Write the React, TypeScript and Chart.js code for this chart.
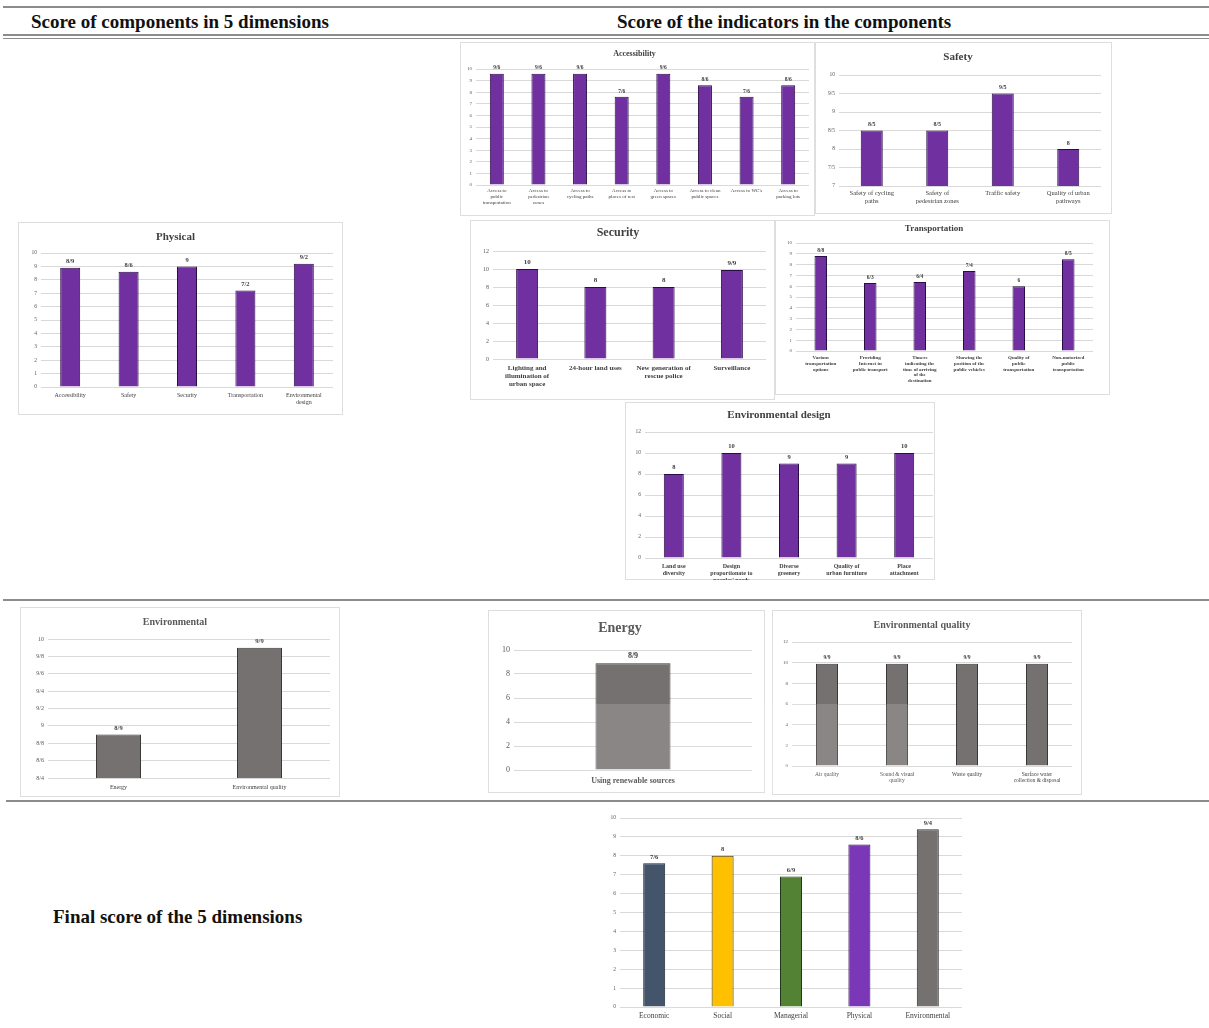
import React, { useEffect, useRef } from "react";
import { Chart, registerables } from "chart.js";
Chart.register(...registerables);

const FONT = "'Liberation Serif', 'Times New Roman', serif";
const PURPLE = "#7030A0";
const PURPLE_B = "#2a0d45";
const GRAY = "#767171";
const GRAY_B = "#3a3838";

// ---------- data ----------
const accessLabels = [["Access to", "public", "transportation"], ["Access to", "pedestrian", "zones"], ["Access to", "cycling paths"], ["Access to", "places of rest"], ["Access to", "green spaces"], ["Access to clean", "public spaces"], ["Access to WC's"], ["Access to", "parking lots"]];
const accessValues = [9.6, 9.6, 9.6, 7.6, 9.6, 8.6, 7.6, 8.6];

const safetyLabels = [["Safety of cycling", "paths"], ["Safety of", "pedestrian zones"], ["Traffic safety"], ["Quality of urban", "pathways"]];
const safetyValues = [8.5, 8.5, 9.5, 8];

const physicalLabels = [["Accessibility"], ["Safety"], ["Security"], ["Transportation"], ["Environmental", "design"]];
const physicalValues = [8.9, 8.6, 9, 7.2, 9.2];

const securityLabels = [["Lighting and", "illumination of", "urban space"], ["24-hour land uses"], ["New generation of", "rescue police"], ["Surveillance"]];
const securityValues = [10, 8, 8, 9.9];

const transportLabels = [["Various", "transportation", "options"], ["Providing", "Internet in", "public transport"], ["Timers", "indicating the", "time of arriving", "of the", "destination"], ["Showing the", "position of the", "public vehicles"], ["Quality of", "public", "transportation"], ["Non-motorized", "public", "transportation"]];
const transportValues = [8.8, 6.3, 6.4, 7.4, 6, 8.5];

const envDesignLabels = [["Land use", "diversity"], ["Design", "proportionate to", "peoples' needs"], ["Diverse", "greenery"], ["Quality of", "urban furniture"], ["Place", "attachment"]];
const envDesignValues = [8, 10, 9, 9, 10];

const environmentalLabels = [["Energy"], ["Environmental quality"]];
const environmentalValues = [8.9, 9.9];

const energyLabels = [["Using renewable sources"]];
const energyValues = [8.9];

const envQualityLabels = [["Air quality"], ["Sound & visual", "quality"], ["Waste quality"], ["Surface water", "collection & disposal"]];
const envQualityValues = [9.9, 9.9, 9.9, 9.9];

const finalLabels = [["Economic"], ["Social"], ["Managerial"], ["Physical"], ["Environmental"]];
const finalValues = [7.6, 8, 6.9, 8.6, 9.4];
const finalColors = ["#44546A", "#FFC000", "#548235", "#7A38B8", "#767171"];
const finalBorders = ["#1c2633", "#3a2c00", "#22381a", "#2a0d45", "#2f2d2d"];

const fmt = (v: number) => String(Math.round(v * 10) / 10).replace(".", "/");

type Spec = {
  box: [number, number, number, number];
  plot: [number, number, number, number];
  title?: string;
  titleY?: number;
  titleSize?: number;
  titleColor?: string;
  labels: string[][];
  values: number[];
  colors: string | string[];
  borders: string | string[];
  barW: number;
  yMin: number;
  yMax: number;
  yStep: number;
  tickSize: number;
  xSize: number;
  xPad: number;
  xBold?: boolean;
  valSize: number;
  frame?: boolean;
};

const valueLabelPlugin = {
  id: "valueLabels",
  afterDatasetsDraw(chart: any, _args: any, opts: any) {
    const ctx = chart.ctx;
    const meta = chart.getDatasetMeta(0);
    const ds = chart.data.datasets[0];
    ctx.save();
    ctx.font = `bold ${opts.size}px ${FONT}`;
    ctx.fillStyle = opts.color || "#404040";
    ctx.textAlign = "center";
    ctx.textBaseline = "bottom";
    meta.data.forEach((el: any, i: number) => {
      ctx.fillText(fmt(ds.data[i] as number), el.x, el.y - 3);
    });
    ctx.restore();
  },
};

function BarChart({ s }: { s: Spec }) {
  const ref = useRef<HTMLCanvasElement>(null);
  const [bx, by, bw, bh] = s.box;
  const [pl, pt, pr, pb] = s.plot;
  useEffect(() => {
    const yW = pl - bx;
    const xH = by + bh - pb;
    const topH = pt - by;
    const catW = (pr - pl) / s.labels.length;
    const ts = s.titleSize || 10;
    let titleOpts: any = { display: false };
    let padTop = topH;
    if (s.title) {
      const pTop = (s.titleY as number) - by - 0.6 * ts;
      const pBot = topH - pTop - 1.2 * ts;
      titleOpts = {
        display: true,
        text: s.title,
        color: s.titleColor || "#404040",
        font: { family: FONT, size: ts, weight: "bold" },
        padding: { top: pTop, bottom: pBot },
      };
      padTop = 0;
    }
    const chart = new Chart(ref.current as HTMLCanvasElement, {
      type: "bar",
      data: {
        labels: s.labels,
        datasets: [
          {
            data: s.values,
            backgroundColor: s.colors,
            borderColor: s.borders,
            borderWidth: 1,
            barPercentage: s.barW / catW,
            categoryPercentage: 1,
          },
        ],
      },
      plugins: [valueLabelPlugin],
      options: {
        responsive: false,
        animation: false,
        devicePixelRatio: 1,
        layout: { padding: { left: 0, right: bx + bw - pr, top: padTop, bottom: 0 } },
        plugins: {
          legend: { display: false },
          tooltip: { enabled: false },
          title: titleOpts,
          valueLabels: { size: s.valSize, color: "#404040" },
        } as any,
        scales: {
          x: {
            grid: { display: false, drawTicks: false },
            border: { display: false },
            ticks: {
              autoSkip: false,
              maxRotation: 0,
              minRotation: 0,
              padding: s.xPad,
              color: "#404040",
              font: { family: FONT, size: s.xSize, weight: s.xBold ? "bold" : "normal", lineHeight: 1.15 },
            },
            afterFit: (sc: any) => {
              sc.height = xH;
            },
          },
          y: {
            min: s.yMin,
            max: s.yMax,
            grid: { color: "#d9d9d9", lineWidth: 1, drawTicks: false },
            border: { display: false },
            ticks: {
              stepSize: s.yStep,
              padding: 4,
              color: "#595959",
              font: { family: FONT, size: s.tickSize },
              callback: (v: any) => fmt(Number(v)),
            },
            afterFit: (sc: any) => {
              sc.width = yW;
            },
          },
        },
      },
    });
    return () => chart.destroy();
  }, []);
  return (
    <div
      style={{
        position: "absolute",
        left: bx,
        top: by,
        width: bw,
        height: bh,
        background: "#fff",
        boxSizing: "border-box",
        border: s.frame === false ? "none" : "1px solid #dedede",
      }}
    >
      <canvas ref={ref} width={bw} height={bh} style={{ position: "absolute", left: s.frame === false ? 0 : -1, top: s.frame === false ? 0 : -1, width: bw, height: bh, display: "block" }} />
    </div>
  );
}

const specs: Spec[] = [
  {
    box: [460, 42, 355, 174], plot: [476, 69, 809, 185],
    title: "Accessibility", titleY: 54, titleSize: 8,
    labels: accessLabels, values: accessValues, colors: PURPLE, borders: PURPLE_B, barW: 14,
    yMin: 0, yMax: 10, yStep: 1, tickSize: 5, xSize: 5, xPad: 3, valSize: 5.5,
  },
  {
    box: [815, 42, 297, 172], plot: [839, 75, 1101, 186],
    title: "Safety", titleY: 57, titleSize: 11,
    labels: safetyLabels, values: safetyValues, colors: PURPLE, borders: PURPLE_B, barW: 22,
    yMin: 7, yMax: 10, yStep: 0.5, tickSize: 5.5, xSize: 6.5, xPad: 4, valSize: 6,
  },
  {
    box: [18, 222, 325, 193], plot: [41, 253, 333, 387],
    title: "Physical", titleY: 237, titleSize: 11,
    labels: physicalLabels, values: physicalValues, colors: PURPLE, borders: PURPLE_B, barW: 20,
    yMin: 0, yMax: 10, yStep: 1, tickSize: 5.5, xSize: 6, xPad: 5, valSize: 6.5,
  },
  {
    box: [470, 220, 305, 180], plot: [493, 251, 766, 359],
    title: "Security", titleY: 233, titleSize: 12,
    labels: securityLabels, values: securityValues, colors: PURPLE, borders: PURPLE_B, barW: 22,
    yMin: 0, yMax: 12, yStep: 2, tickSize: 6, xSize: 7, xPad: 5, xBold: true, valSize: 7,
  },
  {
    box: [775, 220, 335, 175], plot: [796, 243, 1093, 351],
    title: "Transportation", titleY: 229, titleSize: 9,
    labels: transportLabels, values: transportValues, colors: PURPLE, borders: PURPLE_B, barW: 12.5,
    yMin: 0, yMax: 10, yStep: 1, tickSize: 5, xSize: 5, xPad: 4, xBold: true, valSize: 5.5,
  },
  {
    box: [625, 402, 310, 178], plot: [645, 432, 933, 558],
    title: "Environmental design", titleY: 415, titleSize: 11,
    labels: envDesignLabels, values: envDesignValues, colors: PURPLE, borders: PURPLE_B, barW: 20,
    yMin: 0, yMax: 12, yStep: 2, tickSize: 5.5, xSize: 6, xPad: 5, xBold: true, valSize: 6.5,
  },
  {
    box: [20, 607, 320, 190], plot: [48, 639, 330, 778],
    title: "Environmental", titleY: 622, titleSize: 10, titleColor: "#595959",
    labels: environmentalLabels, values: environmentalValues, colors: GRAY, borders: GRAY_B, barW: 45,
    yMin: 8.4, yMax: 10, yStep: 0.2, tickSize: 6, xSize: 6, xPad: 6, valSize: 6.5,
  },
  {
    box: [488, 610, 277, 183], plot: [514, 650, 752, 770],
    title: "Energy", titleY: 628, titleSize: 14, titleColor: "#595959",
    labels: energyLabels, values: energyValues, colors: GRAY, borders: GRAY_B, barW: 75,
    yMin: 0, yMax: 10, yStep: 2, tickSize: 8, xSize: 8, xPad: 6, xBold: true, valSize: 8,
  },
  {
    box: [772, 610, 310, 185], plot: [792, 642, 1072, 766],
    title: "Environmental quality", titleY: 625, titleSize: 10, titleColor: "#595959",
    labels: envQualityLabels, values: envQualityValues, colors: GRAY, borders: GRAY_B, barW: 22,
    yMin: 0, yMax: 12, yStep: 2, tickSize: 5, xSize: 5.5, xPad: 5, valSize: 5.5,
  },
  {
    box: [600, 807, 370, 221], plot: [620, 818, 962, 1007],
    labels: finalLabels, values: finalValues, colors: finalColors, borders: finalBorders, barW: 22,
    yMin: 0, yMax: 10, yStep: 1, tickSize: 5.5, xSize: 7.5, xPad: 5, valSize: 6.5, frame: false,
  },
];

const hline = (top: number, left: number, h: number, color = "#8c8c8c") => (
  <div style={{ position: "absolute", left, right: 0, top, height: h, background: color }} />
);

const textStyle: React.CSSProperties = {
  position: "absolute",
  fontFamily: FONT,
  fontWeight: "bold",
  fontSize: 19,
  color: "#111",
  whiteSpace: "nowrap",
  lineHeight: "22px",
};

export default function App() {
  return (
    <div style={{ position: "fixed", left: 0, top: 0, width: 1209, height: 1028, background: "#fff", overflow: "hidden" }}>
      {hline(6, 3, 2)}
      <div style={{ ...textStyle, left: 31, top: 11 }}>Score of components in 5 dimensions</div>
      <div style={{ ...textStyle, left: 617, top: 11 }}>Score of the indicators in the components</div>
      {hline(34, 3, 2)}
      {hline(38, 3, 1)}
      {hline(599, 3, 2)}
      {hline(800, 6, 2)}
      <div style={{ ...textStyle, left: 53, top: 906 }}>Final score of the 5 dimensions</div>
      {specs.map((s, i) => (
        <BarChart key={i} s={s} />
      ))}
      <div style={{ position: "absolute", left: 590, top: 704, width: 318, height: 88, background: "rgba(255,255,255,0.15)", pointerEvents: "none" }} />
    </div>
  );
}
